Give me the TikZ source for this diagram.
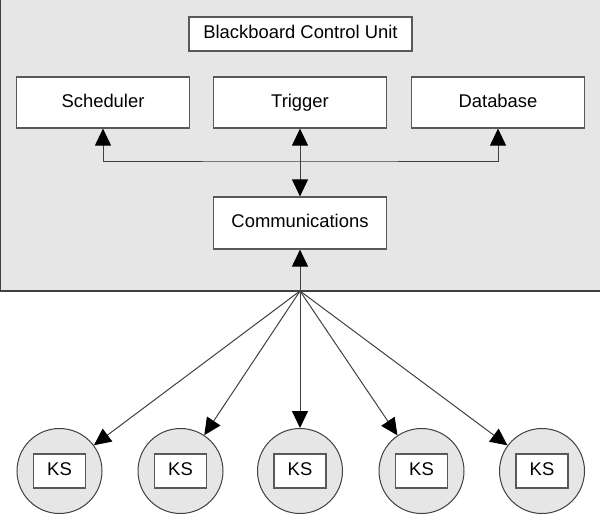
\documentclass[tikz,border=0pt]{standalone}
\usepackage{fontspec}
\setmainfont{Liberation Sans}
\usepackage{xcolor}
\usetikzlibrary{arrows.meta}
\definecolor{panel}{HTML}{E6E6E6}
\definecolor{ink}{HTML}{404040}
\definecolor{edge}{HTML}{595959}
\tikzset{
  frame/.style={draw=ink, line width=0.6pt},
  box/.style={draw=edge, fill=white, line width=0.6pt, inner sep=0pt,
    text height=6.8pt, text depth=1.9pt, font=\fontsize{9.2}{11}\selectfont},
  ksnode/.style={circle, draw=ink, fill=panel, line width=0.5pt,
    minimum size=42.5pt, inner sep=0pt},
  conn/.style={draw=ink, line width=0.5pt},
  tip/.style={-{Triangle[length=8.5pt,width=8pt,color=black]}},
  tips/.style={{Triangle[length=8.5pt,width=8pt,color=black]}-{Triangle[length=8.5pt,width=8pt,color=black]}},
}
\begin{document}
\begin{tikzpicture}[x=0.5pt,y=-0.5pt]
  \useasboundingbox (0,0) rectangle (600,514);
  \fill[panel] (0,0) rectangle (600,291);
  \draw[frame] (0.6,-4) |- (604,291);
  \node[box, minimum width=111.5pt, minimum height=17pt] (bcu) at (300.5,34) {Blackboard Control Unit};
  \node[box, minimum width=86.5pt, minimum height=25.5pt] (sched) at (103,102.5) {Scheduler};
  \node[box, minimum width=86.5pt, minimum height=25.5pt] (trig) at (300,102.5) {Trigger};
  \node[box, minimum width=86.5pt, minimum height=25.5pt] (data) at (498,102.5) {Database};
  \node[box, minimum width=86.5pt, minimum height=26pt] (comm) at (300,223) {Communications};
  \coordinate (bus) at (300,161);
  \coordinate (hub) at (300,291);
  \draw[conn,tips] (sched.south) |- (bus) -| (data.south);
  \draw[conn,tips] (trig) -- (comm);
  \draw[conn,tip] (hub) -- (comm);
  % knowledge sources
  \node[ksnode] (ks1) at (59.5,471) {};
  \node[ksnode] (ks2) at (180.5,471) {};
  \node[ksnode] (ks3) at (300,471) {};
  \node[ksnode] (ks4) at (421.5,471) {};
  \node[ksnode] (ks5) at (542,471) {};
  \node[box, minimum width=26pt, minimum height=17pt] (kb1) at (ks1) {KS};
  \node[box, minimum width=26pt, minimum height=17pt] (kb2) at (ks2) {KS};
  \node[box, minimum width=26pt, minimum height=17pt] (kb3) at (ks3) {KS};
  \node[box, minimum width=26pt, minimum height=17pt] (kb4) at (ks4) {KS};
  \node[box, minimum width=26pt, minimum height=17pt] (kb5) at (ks5) {KS};
  \draw[conn,tip] (hub) -- (ks1);
  \draw[conn,tip] (hub) -- (ks2);
  \draw[conn,tip] (hub) -- (ks3);
  \draw[conn,tip] (hub) -- (ks4);
  \draw[conn,tip] (hub) -- (ks5);
\end{tikzpicture}
\end{document}
